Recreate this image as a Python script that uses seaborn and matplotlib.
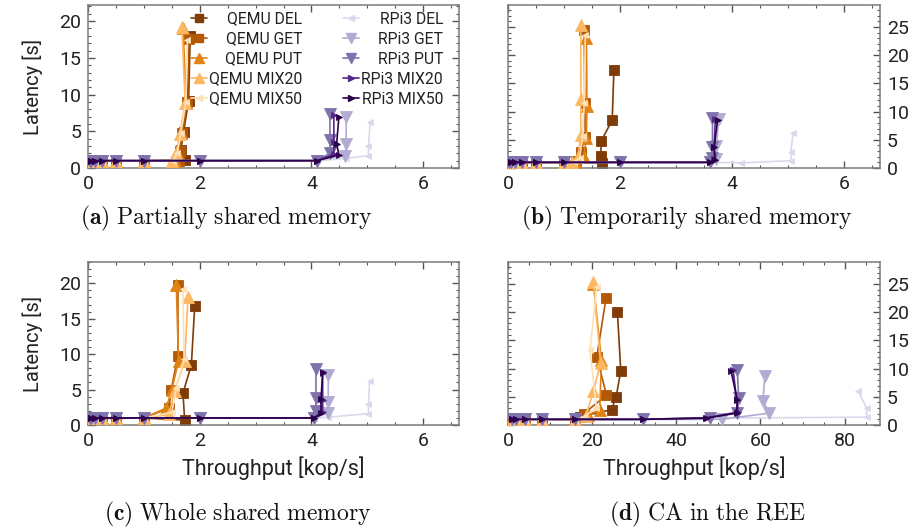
import matplotlib
matplotlib.use("Agg")
import matplotlib.pyplot as plt
import seaborn as sns
import pandas as pd
from matplotlib.ticker import MultipleLocator
from matplotlib.lines import Line2D

series = ["QEMU DEL", "QEMU GET", "QEMU PUT", "QEMU MIX20", "QEMU MIX50",
          "RPi3 DEL", "RPi3 GET", "RPi3 PUT", "RPi3 MIX20", "RPi3 MIX50"]
colors = ["#7f3b08", "#b35806", "#e08214", "#fdb863", "#fee0b6",
          "#d8daeb", "#b2abd2", "#8073ac", "#542788", "#2d004b"]
markers = ["s", "s", "^", "^", "<", "<", "v", "v", ">", ">"]
msizes = [6.5, 6.5, 8, 8, 5, 5, 8, 8, 5, 5]

captions = ["(a)", "(b)", "(c)", "(d)"]
caption_texts = ["Partially shared memory", "Temporarily shared memory",
                 "Whole shared memory", "CA in the REE"]

# ---- panel (a): x throughput [kop/s], y latency [s] ----
a_x = [
    [0.03, 0.06, 0.12, 0.25, 0.5, 1.0, 1.74, 1.66, 1.71, 1.80, 1.83],
    [0.03, 0.06, 0.12, 0.25, 0.5, 1.0, 1.62, 1.64, 1.69, 1.78, 1.81],
    [0.03, 0.06, 0.12, 0.25, 0.5, 1.0, 1.55, 1.60, 1.66, 1.76, 1.70],
    [0.03, 0.06, 0.12, 0.25, 0.5, 1.0, 1.50, 1.58, 1.64, 1.74, 1.68],
    [0.03, 0.06, 0.12, 0.25, 0.5, 1.0, 1.52, 1.60, 1.66, 1.75, 1.78],
    [0.03, 0.06, 0.12, 0.25, 0.5, 1.0, 2.0, 4.1, 4.62, 5.02, 5.02, 5.05],
    [0.03, 0.06, 0.12, 0.25, 0.5, 1.0, 2.0, 4.1, 4.60, 4.62, 4.62],
    [0.03, 0.06, 0.12, 0.25, 0.5, 1.0, 2.0, 4.1, 4.33, 4.33, 4.33],
    [0.03, 0.06, 0.12, 0.25, 0.5, 1.0, 2.0, 4.1, 4.40, 4.40, 4.40],
    [0.03, 0.06, 0.12, 0.25, 0.5, 1.0, 2.0, 4.1, 4.49, 4.45, 4.49],
]
a_y = [
    [0.95, 0.95, 0.95, 0.95, 0.95, 0.98, 1.1, 2.4, 4.9, 9.1, 18.0],
    [0.95, 0.95, 0.95, 0.95, 0.95, 0.98, 1.0, 2.3, 4.8, 9.0, 17.6],
    [0.95, 0.95, 0.95, 0.95, 0.95, 0.98, 1.0, 2.2, 4.7, 8.9, 19.0],
    [0.95, 0.95, 0.95, 0.95, 0.95, 0.98, 1.0, 2.0, 4.6, 8.8, 19.2],
    [0.95, 0.95, 0.95, 0.95, 0.95, 0.98, 1.0, 2.1, 4.7, 9.0, 17.5],
    [1.0, 1.0, 1.0, 1.0, 1.0, 1.0, 1.0, 1.0, 1.3, 1.7, 3.0, 6.3],
    [1.0, 1.0, 1.0, 1.0, 1.0, 1.0, 1.0, 1.0, 1.7, 3.3, 7.0],
    [1.0, 1.0, 1.0, 1.0, 1.0, 1.0, 1.0, 1.0, 2.0, 3.8, 7.4],
    [1.0, 1.0, 1.0, 1.0, 1.0, 1.0, 1.0, 1.0, 1.9, 3.5, 7.2],
    [1.0, 1.0, 1.0, 1.0, 1.0, 1.0, 1.0, 1.0, 1.8, 3.3, 6.9],
]

# ---- panel (b) ----
b_x = [
    [0.02, 0.06, 0.12, 0.25, 0.5, 1.0, 1.67, 1.66, 1.66, 1.86, 1.89],
    [0.02, 0.06, 0.12, 0.25, 0.5, 1.0, 1.22, 1.30, 1.38, 1.37, 1.36],
    [0.02, 0.06, 0.12, 0.25, 0.5, 1.0, 1.20, 1.35, 1.40, 1.41, 1.40],
    [0.02, 0.06, 0.12, 0.25, 0.5, 1.0, 1.15, 1.25, 1.30, 1.30, 1.30],
    [0.02, 0.06, 0.12, 0.25, 0.5, 1.0, 1.18, 1.28, 1.33, 1.36, 1.38],
    [0.02, 0.06, 0.12, 0.25, 0.5, 1.0, 2.0, 3.6, 4.15, 5.05, 5.05, 5.09],
    [0.02, 0.06, 0.12, 0.25, 0.5, 1.0, 2.0, 3.6, 3.72, 3.72, 3.76],
    [0.02, 0.06, 0.12, 0.25, 0.5, 1.0, 2.0, 3.6, 3.65, 3.65, 3.65],
    [0.02, 0.06, 0.12, 0.25, 0.5, 1.0, 2.0, 3.6, 3.68, 3.68, 3.70],
    [0.02, 0.06, 0.12, 0.25, 0.5, 1.0, 2.0, 3.6, 3.70, 3.68, 3.74],
]
b_y = [
    [0.95, 0.95, 0.95, 0.95, 0.95, 0.98, 0.9, 2.1, 4.7, 8.5, 17.3],
    [0.95, 0.95, 0.95, 0.95, 0.95, 0.98, 1.2, 2.9, 5.5, 11.5, 24.4],
    [0.95, 0.95, 0.95, 0.95, 0.95, 0.98, 1.1, 2.0, 5.4, 11.0, 23.0],
    [0.95, 0.95, 0.95, 0.95, 0.95, 0.98, 1.0, 2.0, 5.9, 12.3, 25.3],
    [0.95, 0.95, 0.95, 0.95, 0.95, 0.98, 1.0, 1.8, 5.6, 11.5, 23.5],
    [1.0, 1.0, 1.0, 1.0, 1.0, 1.0, 1.0, 1.0, 0.9, 1.3, 2.9, 6.2],
    [1.0, 1.0, 1.0, 1.0, 1.0, 1.0, 1.0, 1.0, 1.6, 3.9, 8.7],
    [1.0, 1.0, 1.0, 1.0, 1.0, 1.0, 1.0, 1.0, 1.7, 3.8, 8.8],
    [1.0, 1.0, 1.0, 1.0, 1.0, 1.0, 1.0, 1.0, 1.6, 3.8, 8.6],
    [1.0, 1.0, 1.0, 1.0, 1.0, 1.0, 1.0, 1.0, 1.5, 3.7, 8.5],
]

# ---- panel (c) ----
c_x = [
    [0.03, 0.06, 0.12, 0.25, 0.5, 1.0, 1.73, 1.70, 1.85, 1.91],
    [0.03, 0.06, 0.12, 0.25, 0.5, 1.0, 1.45, 1.49, 1.61, 1.61],
    [0.03, 0.06, 0.12, 0.25, 0.5, 1.0, 1.40, 1.50, 1.62, 1.58],
    [0.03, 0.06, 0.12, 0.25, 0.5, 1.0, 1.45, 1.55, 1.73, 1.79],
    [0.03, 0.06, 0.12, 0.25, 0.5, 1.0, 1.50, 1.58, 1.72, 1.70],
    [0.03, 0.06, 0.12, 0.25, 0.5, 1.0, 2.0, 4.05, 4.3, 5.02, 5.02, 5.04],
    [0.03, 0.06, 0.12, 0.25, 0.5, 1.0, 2.0, 4.05, 4.3, 4.3, 4.3],
    [0.03, 0.06, 0.12, 0.25, 0.5, 1.0, 2.0, 4.05, 4.08, 4.08, 4.08],
    [0.03, 0.06, 0.12, 0.25, 0.5, 1.0, 2.0, 4.05, 4.2, 4.2, 4.2],
    [0.03, 0.06, 0.12, 0.25, 0.5, 1.0, 2.0, 4.05, 4.17, 4.17, 4.2],
]
c_y = [
    [0.95, 0.95, 0.95, 0.95, 0.95, 0.98, 0.7, 4.5, 8.5, 16.8],
    [0.95, 0.95, 0.95, 0.95, 0.95, 0.98, 2.4, 5.0, 9.8, 19.7],
    [0.95, 0.95, 0.95, 0.95, 0.95, 0.98, 2.4, 5.0, 9.0, 19.8],
    [0.95, 0.95, 0.95, 0.95, 0.95, 0.98, 1.5, 4.8, 9.0, 18.1],
    [0.95, 0.95, 0.95, 0.95, 0.95, 0.98, 1.8, 5.2, 9.3, 19.2],
    [1.0, 1.0, 1.0, 1.0, 1.0, 1.0, 1.0, 1.0, 1.1, 1.6, 2.9, 6.2],
    [1.0, 1.0, 1.0, 1.0, 1.0, 1.0, 1.0, 1.0, 1.7, 3.3, 7.1],
    [1.0, 1.0, 1.0, 1.0, 1.0, 1.0, 1.0, 1.0, 2.0, 3.8, 7.9],
    [1.0, 1.0, 1.0, 1.0, 1.0, 1.0, 1.0, 1.0, 1.8, 3.5, 7.3],
    [1.0, 1.0, 1.0, 1.0, 1.0, 1.0, 1.0, 1.0, 1.7, 3.6, 7.5],
]

# ---- panel (d) ----
d_x = [
    [1, 2, 4, 8, 16, 17.0, 24.6, 25.7, 26.8, 26.0],
    [1, 2, 4, 8, 16, 18.0, 23.4, 21.1, 23.3],
    [1, 2, 4, 8, 16, 19.0, 21.8, 22.2, 20.3],
    [1, 2, 4, 8, 16, 18.5, 20.3, 22.0, 20.3],
    [1, 2, 4, 8, 16, 18.0, 21.0, 19.5, 21.1],
    [1, 2, 4, 8, 16, 32, 47.0, 85.2, 85.2, 83.2],
    [1, 2, 4, 8, 16, 32, 50.8, 62.0, 60.6, 61.0],
    [1, 2, 4, 8, 16, 32, 48.0, 54.5, 54.8, 54.5],
    [1, 2, 4, 8, 16, 32, 47.2, 54.7, 54.3, 53.5],
    [1, 2, 4, 8, 16, 32, 47.0, 54.3, 54.5, 53.0],
]
d_y = [
    [0.9, 0.9, 0.9, 0.9, 0.95, 1.5, 2.7, 5.0, 9.6, 20.0],
    [0.9, 0.9, 0.9, 0.9, 0.95, 2.0, 5.3, 12.1, 22.5],
    [0.9, 0.9, 0.9, 0.9, 0.95, 1.8, 2.7, 11.5, 25.0],
    [0.9, 0.9, 0.9, 0.9, 0.95, 1.6, 6.0, 11.0, 25.4],
    [0.9, 0.9, 0.9, 0.9, 0.95, 1.5, 3.0, 13.3, 24.5],
    [1.0, 1.0, 1.0, 1.0, 1.0, 1.0, 1.2, 1.4, 3.0, 6.1],
    [1.0, 1.0, 1.0, 1.0, 1.0, 1.0, 1.0, 2.1, 4.3, 8.6],
    [1.0, 1.0, 1.0, 1.0, 1.0, 1.0, 1.3, 2.2, 4.8, 9.8],
    [1.0, 1.0, 1.0, 1.0, 1.0, 1.0, 1.3, 2.3, 4.6, 9.8],
    [1.0, 1.0, 1.0, 1.0, 1.0, 1.0, 1.2, 2.1, 4.4, 9.6],
]

sns.set_style("ticks")
plt.rcParams["font.family"] = ["Roboto", "DejaVu Sans"]
plt.rcParams["mathtext.fontset"] = "cm"

W, H = 922, 528
fig = plt.figure(figsize=(W / 100, H / 100), dpi=100)

def rect(l, t, r, b):
    return [l / W, 1 - b / H, (r - l) / W, (b - t) / H]

axes_rects = [rect(88, 5, 459, 168), rect(508, 5, 880, 168),
              rect(88, 262, 459, 425), rect(508, 262, 880, 425)]
panels = [(a_x, a_y), (b_x, b_y), (c_x, c_y), (d_x, d_y)]
xlims = [(0, 6.64), (0, 6.64), (0, 6.64), (0, 88.4)]
ylims = [(0, 22.2), (0, 28.9), (0, 23.0), (0, 28.9)]

spine_col = "#7a7a7a"
axes = []
for i, (r, (px, py)) in enumerate(zip(axes_rects, panels)):
    ax = fig.add_axes(r)
    axes.append(ax)
    for k in range(len(series)):
        df = pd.DataFrame({"x": px[k], "y": py[k]})
        sns.lineplot(data=df, x="x", y="y", ax=ax, color=colors[k],
                     marker=markers[k], markersize=msizes[k],
                     markeredgecolor=colors[k], markeredgewidth=0.6,
                     linewidth=1.2, sort=False, estimator=None,
                     legend=False, zorder=2 + k)
    ax.set_xlim(*xlims[i])
    ax.set_ylim(*ylims[i])
    if i == 3:
        ax.xaxis.set_major_locator(MultipleLocator(20))
        ax.xaxis.set_minor_locator(MultipleLocator(5))
    else:
        ax.xaxis.set_major_locator(MultipleLocator(2))
        ax.xaxis.set_minor_locator(MultipleLocator(0.5))
    ax.yaxis.set_major_locator(MultipleLocator(5))
    ax.yaxis.set_minor_locator(MultipleLocator(1))
    for s in ax.spines.values():
        s.set_color(spine_col)
        s.set_linewidth(1.1)
    ax.tick_params(which="both", direction="in", top=True, right=True,
                   left=True, bottom=True, color="#555555",
                   labelsize=14, labelcolor="#222222", pad=5)
    ax.tick_params(which="major", length=5, width=1.0)
    ax.tick_params(which="minor", length=2.5, width=0.8)
    if i in (1, 3):
        ax.tick_params(axis="y", labelleft=False, labelright=True)
        ax.set_ylabel("")
    else:
        ax.set_ylabel("Latency [s]", fontsize=14.5, color="#222222")
        ax.yaxis.set_label_coords(-0.12, 0.5)
    if i in (2, 3):
        ax.set_xlabel("Throughput [kop/s]", fontsize=15.5, color="#222222")
        ax.xaxis.set_label_coords(0.5, -0.19)
    else:
        ax.set_xlabel("")

# legend in panel (a)
handles = [Line2D([], [], color=colors[k], marker=markers[k],
                  markersize=msizes[k] * 0.85, markeredgecolor=colors[k],
                  linewidth=1.2) for k in range(len(series))]
leg = axes[0].legend(handles, series, ncol=2, loc="upper right",
                     bbox_to_anchor=(0.957, 0.96), frameon=False,
                     fontsize=11.3, handlelength=1.0, handletextpad=0.15,
                     labelspacing=0.32, columnspacing=2.6, borderaxespad=0,
                     borderpad=0)
for t in leg.get_texts():
    t.set_color("#222222")

# right-align the legend labels inside each column
renderer = fig.canvas.get_renderer()
cols = leg._legend_handle_box.get_children()
for col in cols:
    items = col.get_children()
    widths = []
    for it in items:
        ta = it.get_children()[1]
        widths.append(ta._text.get_window_extent(renderer).width)
    mw = max(widths)
    for it, w in zip(items, widths):
        it.sep = it.sep + (mw - w) * 72.0 / fig.dpi

# captions
cap_pos = [(226, 218), (687, 218), (238, 514), (708, 514)]
for (cx, cy), lab, txt in zip(cap_pos, captions, caption_texts):
    s = r"$\mathbf{" + lab + r"}\ \mathrm{" + txt.replace(" ", r"\ ") + r"}$"
    fig.text(cx / W, 1 - cy / H, s, ha="center", va="center",
             fontsize=17, color="#111111")

fig.savefig("out.png", dpi=100)
